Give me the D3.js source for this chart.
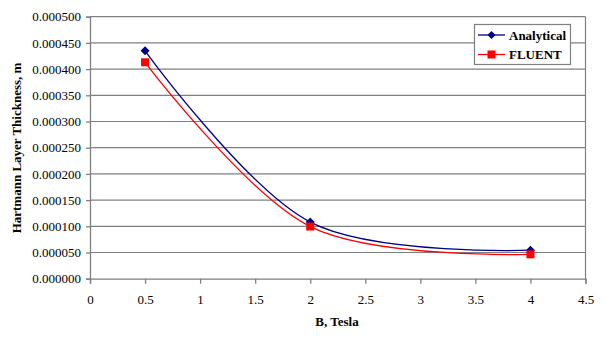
<!DOCTYPE html>
<html><head><meta charset="utf-8">
<script src="https://cdn.jsdelivr.net/npm/d3@7"></script>
<style>body{margin:0;background:#fff}svg{display:block}svg text{font-family:'Liberation Serif',serif !important}</style>
</head><body><svg id="c" width="606" height="338" font-family="Liberation Serif"></svg>
<script>
const bValues = [0.5, 2, 4];
const analytical = [0.000435, 0.000108, 0.0000545];
const fluent = [0.000413, 0.0000995, 0.0000465];
const xTicks = [0, 0.5, 1, 1.5, 2, 2.5, 3, 3.5, 4, 4.5];
const yTicks = [0, 0.00005, 0.0001, 0.00015, 0.0002, 0.00025, 0.0003, 0.00035, 0.0004, 0.00045, 0.0005];
const seriesNames = ["Analytical", "FLUENT"];

const svg = d3.select("#c");
const x = d3.scaleLinear().domain([0, 4.5]).range([90, 585.5]);
const y = d3.scaleLinear().domain([0, 0.0005]).range([278.7, 16.7]);

svg.append("g").selectAll("line").data(yTicks.slice(1)).join("line")
  .attr("x1", 90).attr("x2", 585.5).attr("y1", d => y(d)).attr("y2", d => y(d))
  .attr("stroke", "#808080").attr("stroke-width", 1.2);
svg.append("line").attr("x1", 585.5).attr("x2", 585.5).attr("y1", 16.7).attr("y2", 278.7)
  .attr("stroke", "#808080").attr("stroke-width", 1.2);

const fmt = d => d.toFixed(6);
const yAxis = svg.append("g").attr("transform", "translate(90,0)")
  .call(d3.axisLeft(y).tickValues(yTicks).tickFormat(fmt).tickSize(4).tickPadding(5));
const xAxis = svg.append("g").attr("transform", "translate(0,278.7)")
  .call(d3.axisBottom(x).tickValues(xTicks).tickFormat(d3.format("")).tickSize(5).tickPadding(11));
[yAxis, xAxis].forEach(a => {
  a.attr("font-family", null).attr("font-size", null);
  a.selectAll("path").attr("stroke", "#808080").attr("stroke-width", 1.3);
  a.selectAll("line").attr("stroke", "#808080").attr("stroke-width", 1.3);
  a.selectAll("text").attr("font-size", 13).attr("fill", "#000");
});

const line = d3.line().x(d => x(d[0])).y(d => y(d[1])).curve(d3.curveCardinal.tension(0));
const aData = bValues.map((b, i) => [b, analytical[i]]);
const fData = bValues.map((b, i) => [b, fluent[i]]);

svg.append("path").attr("d", line(fData)).attr("fill", "none").attr("stroke", "#ff0000").attr("stroke-width", 1.3);
svg.append("path").attr("d", line(aData)).attr("fill", "none").attr("stroke", "#000080").attr("stroke-width", 1.3);

const diamond = (cx, cy, r) => `M${cx},${cy - r}L${cx + r},${cy}L${cx},${cy + r}L${cx - r},${cy}Z`;
svg.append("g").selectAll("path").data(aData).join("path")
  .attr("d", d => diamond(x(d[0]), y(d[1]), 4.5)).attr("fill", "#000080");
svg.append("g").selectAll("rect").data(fData).join("rect")
  .attr("x", d => x(d[0]) - 4).attr("y", d => y(d[1]) - 4).attr("width", 8).attr("height", 8)
  .attr("fill", "#ff0000");

svg.append("text").attr("x", 337).attr("y", 326).attr("text-anchor", "middle")
  .attr("font-size", 13).attr("font-weight", "bold").text("B, Tesla");
svg.append("text").attr("transform", "translate(21,148) rotate(-90)").attr("text-anchor", "middle")
  .attr("font-size", 13).attr("font-weight", "bold").text("Hartmann Layer Thickness, m");

const lg = svg.append("g");
lg.append("rect").attr("x", 474.5).attr("y", 24.5).attr("width", 96).attr("height", 40)
  .attr("fill", "#fff").attr("stroke", "#808080").attr("stroke-width", 1.2);
const colors = ["#000080", "#ff0000"];
seriesNames.forEach((n, i) => {
  const cy = 35 + i * 19.5;
  lg.append("line").attr("x1", 478).attr("x2", 505).attr("y1", cy).attr("y2", cy)
    .attr("stroke", colors[i]).attr("stroke-width", 1.3);
  if (i === 0) lg.append("path").attr("d", diamond(491.5, cy, 4)).attr("fill", colors[i]);
  else lg.append("rect").attr("x", 487.5).attr("y", cy - 4).attr("width", 8).attr("height", 8).attr("fill", colors[i]);
  lg.append("text").attr("x", 509).attr("y", cy + 4.5).attr("font-size", 13).attr("font-weight", "bold").text(n);
});
</script></body></html>
